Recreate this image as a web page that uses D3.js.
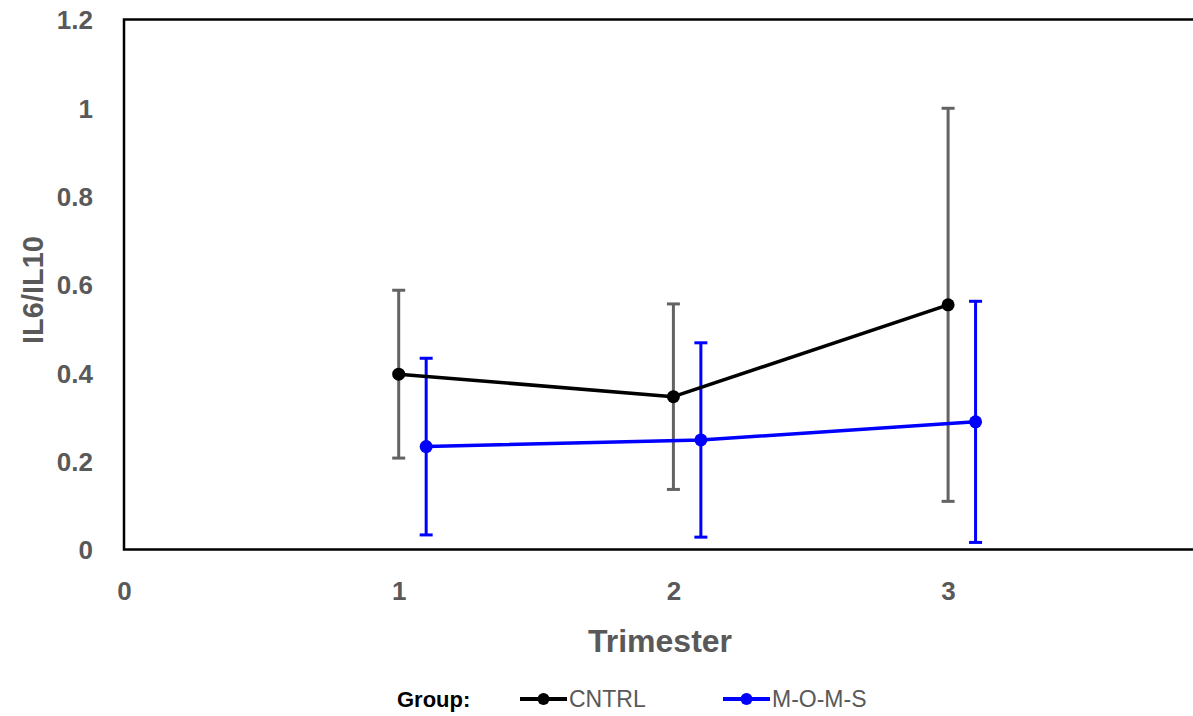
<!DOCTYPE html>
<html>
<head>
<meta charset="utf-8">
<script src="https://cdn.jsdelivr.net/npm/d3@7"></script>
<style>
  body { margin: 0; background: #fff; }
  svg { display: block; }
</style>
</head>
<body>
<svg id="chart" width="1193" height="716"></svg>
<script>
// values
const trimesters = [1, 2, 3];
const cntrlMean = [0.397, 0.346, 0.554];
const cntrlErr = [0.19, 0.21, 0.445];
const momsMean = [0.233, 0.248, 0.289];
const momsErr = [0.2, 0.22, 0.273];
const momsShift = 0.1;
const yTicks = [0, 0.2, 0.4, 0.6, 0.8, 1, 1.2];
const xTicks = [0, 1, 2, 3];

const svg = d3.select('#chart');
const font = "'Liberation Sans', Arial, sans-serif";
const labelGray = '#595959';

// plot box (right side runs off the picture)
const x = d3.scaleLinear().domain([0, 4]).range([124, 1222.8]);
const y = d3.scaleLinear().domain([0, 1.2]).range([549.5, 19.5]);

const series = [
  { name: 'CNTRL', mean: cntrlMean, err: cntrlErr, shift: 0, color: '#000', errColor: '#636363' },
  { name: 'M-O-M-S', mean: momsMean, err: momsErr, shift: momsShift, color: '#0000ff', errColor: '#0000ff' }
];

// y axis labels
const yAxis = svg.append('g')
  .attr('transform', `translate(${x(0)},0)`)
  .call(d3.axisLeft(y).tickValues(yTicks).tickSize(0).tickPadding(31).tickFormat(d3.format('')));
yAxis.select('.domain').remove();
yAxis.selectAll('text')
  .attr('dy', '0.36em')
  .style('font-family', font)
  .style('font-weight', 'bold')
  .style('font-size', '26px')
  .style('fill', labelGray);

// x axis labels
const xAxis = svg.append('g')
  .attr('transform', `translate(0,${y(0)})`)
  .call(d3.axisBottom(x).tickValues(xTicks).tickSize(0).tickPadding(0).tickFormat(d3.format('')));
xAxis.select('.domain').remove();
xAxis.selectAll('text')
  .attr('y', 41)
  .attr('dy', '0.36em')
  .style('font-family', font)
  .style('font-weight', 'bold')
  .style('font-size', '26px')
  .style('fill', labelGray);

// frame
svg.append('rect')
  .attr('x', x(0))
  .attr('y', y(1.2))
  .attr('width', x(4) - x(0))
  .attr('height', y(0) - y(1.2))
  .attr('fill', 'none')
  .attr('stroke', '#000')
  .attr('stroke-width', 2.5);

// error bars
const capHalf = 6.5;
series.forEach(s => {
  const eb = svg.append('g').attr('stroke', s.errColor).attr('stroke-width', 3);
  trimesters.forEach((t, i) => {
    const cx = x(t + s.shift);
    const top = y(s.mean[i] + s.err[i]);
    const bot = y(s.mean[i] - s.err[i]);
    eb.append('line').attr('x1', cx).attr('x2', cx).attr('y1', top).attr('y2', bot);
    eb.append('line').attr('x1', cx - capHalf).attr('x2', cx + capHalf).attr('y1', top).attr('y2', top);
    eb.append('line').attr('x1', cx - capHalf).attr('x2', cx + capHalf).attr('y1', bot).attr('y2', bot);
  });
});

// lines + markers
const line = d3.line().x(d => x(d.t)).y(d => y(d.v));
series.forEach(s => {
  const pts = trimesters.map((t, i) => ({ t: t + s.shift, v: s.mean[i] }));
  svg.append('path')
    .datum(pts)
    .attr('d', line)
    .attr('fill', 'none')
    .attr('stroke', s.color)
    .attr('stroke-width', 3.5)
    .attr('stroke-linejoin', 'round');
  svg.selectAll(null)
    .data(pts)
    .enter().append('circle')
    .attr('cx', d => x(d.t))
    .attr('cy', d => y(d.v))
    .attr('r', 6.5)
    .attr('fill', s.color);
});

// axis titles
svg.append('text')
  .attr('x', 660)
  .attr('y', 652)
  .attr('text-anchor', 'middle')
  .style('font-family', font)
  .style('font-weight', 'bold')
  .style('font-size', '32px')
  .style('fill', labelGray)
  .text('Trimester');

svg.append('text')
  .attr('transform', 'translate(43,290) rotate(-90)')
  .attr('text-anchor', 'middle')
  .style('font-family', font)
  .style('font-weight', 'bold')
  .style('font-size', '29px')
  .style('fill', labelGray)
  .text('IL6/IL10');

// legend
const legendY = 699;
svg.append('text')
  .attr('x', 397)
  .attr('y', legendY + 8)
  .style('font-family', font)
  .style('font-weight', 'bold')
  .style('font-size', '22px')
  .style('fill', '#000')
  .text('Group:');

const legendX = [520, 723];
series.forEach((s, i) => {
  const g = svg.append('g').attr('transform', `translate(${legendX[i]},${legendY})`);
  g.append('line')
    .attr('x1', 0).attr('x2', 47)
    .attr('stroke', s.color)
    .attr('stroke-width', 4);
  g.append('circle').attr('cx', 23.5).attr('r', 6).attr('fill', s.color);
  g.append('text')
    .attr('x', 49)
    .attr('y', 8)
    .style('font-family', font)
    .style('font-size', '23px')
    .style('fill', labelGray)
    .text(s.name);
});
</script>
</body>
</html>
